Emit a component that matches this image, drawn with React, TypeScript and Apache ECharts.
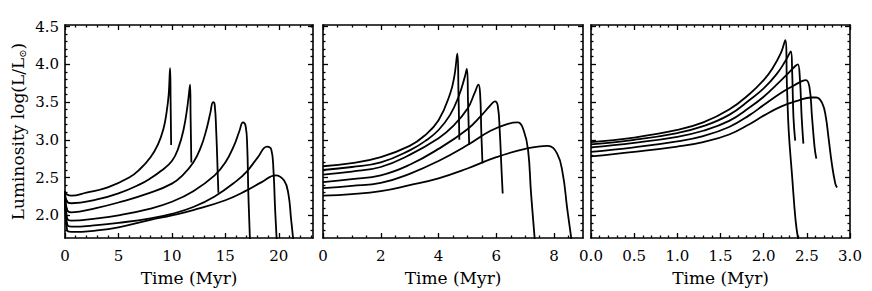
import React, { useEffect, useRef } from "react";
import * as echarts from "echarts";

// ---- Data: [time (Myr), log(L/Lsun)] ----
// Panel 1
const p1A = [[0, 2.32], [0.15, 2.28], [0.6, 2.26], [2, 2.30], [4, 2.37], [6, 2.50], [7, 2.61], [8, 2.77], [8.7, 2.94], [9.2, 3.14], [9.5, 3.36], [9.7, 3.60], [9.83, 3.95], [9.88, 3.5], [9.93, 2.93]];
const p1B = [[0, 2.32], [0.2, 2.18], [0.6, 2.16], [3, 2.21], [5, 2.29], [7, 2.41], [8, 2.49], [9, 2.59], [10, 2.72], [10.6, 2.89], [11.1, 3.14], [11.45, 3.44], [11.7, 3.73], [11.75, 3.3], [11.82, 2.70]];
const p1C = [[0, 2.32], [0.2, 2.07], [0.6, 2.04], [3, 2.10], [5, 2.17], [8, 2.30], [10, 2.42], [11, 2.53], [12, 2.70], [12.7, 2.90], [13.2, 3.12], [13.6, 3.36], [13.85, 3.50], [14.0, 3.47], [14.15, 3.1], [14.3, 2.50], [14.35, 2.30]];
const p1D = [[0, 2.32], [0.2, 1.96], [0.6, 1.93], [3, 1.96], [5, 2.00], [8, 2.09], [10, 2.18], [12, 2.32], [14, 2.53], [15, 2.70], [15.8, 2.92], [16.3, 3.11], [16.65, 3.23], [16.9, 3.18], [17.05, 2.9], [17.15, 2.3], [17.3, 1.68]];
const p1E = [[0, 2.32], [0.2, 1.88], [0.6, 1.85], [3, 1.87], [5, 1.90], [8, 1.96], [10, 2.02], [12, 2.11], [14, 2.25], [16, 2.45], [17, 2.58], [18, 2.76], [18.9, 2.91], [19.3, 2.87], [19.5, 2.6], [19.65, 2.1], [19.8, 1.68]];
const p1F = [[0, 2.32], [0.2, 1.80], [0.6, 1.78], [3, 1.80], [5, 1.84], [8, 1.94], [10, 2.00], [12, 2.07], [15, 2.20], [17, 2.33], [18.4, 2.44], [19.7, 2.53], [20.5, 2.46], [20.9, 2.28], [21.15, 1.95], [21.35, 1.68]];

// Panel 2
const p2A = [[0, 2.65], [1, 2.69], [2, 2.77], [3, 2.92], [3.5, 3.05], [4, 3.26], [4.4, 3.61], [4.55, 3.85], [4.65, 4.14], [4.69, 3.6], [4.72, 3.00]];
const p2B = [[0, 2.60], [1, 2.64], [2, 2.70], [3, 2.86], [3.6, 3.0], [4, 3.13], [4.4, 3.33], [4.7, 3.58], [4.9, 3.82], [4.98, 3.94], [5.02, 3.5], [5.06, 2.93]];
const p2C = [[0, 2.54], [1, 2.58], [2, 2.64], [3, 2.80], [4, 3.02], [4.5, 3.18], [5, 3.41], [5.25, 3.62], [5.38, 3.73], [5.44, 3.6], [5.48, 3.1], [5.52, 2.69]];
const p2D = [[0, 2.44], [1, 2.48], [2, 2.53], [3, 2.67], [4, 2.88], [5, 3.14], [5.5, 3.33], [5.8, 3.46], [5.95, 3.51], [6.05, 3.45], [6.12, 3.1], [6.18, 2.6], [6.22, 2.29]];
const p2E = [[0, 2.36], [1, 2.39], [2, 2.43], [3, 2.55], [4, 2.72], [5, 2.93], [5.8, 3.12], [6.4, 3.21], [6.74, 3.23], [6.95, 3.12], [7.1, 2.86], [7.2, 2.3], [7.33, 1.68]];
const p2F = [[0, 2.26], [1, 2.28], [2, 2.32], [3, 2.40], [4, 2.49], [5, 2.62], [6, 2.77], [7, 2.88], [7.77, 2.92], [8.1, 2.82], [8.3, 2.55], [8.45, 2.1], [8.6, 1.68]];

// Panel 3
const p3A = [[0, 2.97], [0.5, 3.03], [1.0, 3.13], [1.3, 3.23], [1.6, 3.40], [1.84, 3.61], [2.0, 3.79], [2.1, 3.94], [2.2, 4.15], [2.25, 4.32], [2.27, 3.7], [2.29, 3.12], [2.33, 2.51], [2.37, 1.93], [2.40, 1.68]];
const p3B = [[0, 2.94], [0.5, 3.00], [1.0, 3.09], [1.3, 3.18], [1.6, 3.33], [1.84, 3.53], [2.0, 3.68], [2.15, 3.87], [2.25, 4.04], [2.315, 4.17], [2.33, 3.9], [2.345, 3.3], [2.365, 2.99]];
const p3C = [[0, 2.90], [0.5, 2.96], [1.0, 3.04], [1.3, 3.12], [1.6, 3.25], [1.84, 3.43], [2.0, 3.57], [2.15, 3.73], [2.3, 3.90], [2.37, 3.98], [2.396, 4.0], [2.42, 3.8], [2.44, 3.3], [2.46, 2.95]];
const p3D = [[0, 2.84], [0.5, 2.90], [1.0, 2.98], [1.3, 3.05], [1.6, 3.17], [1.84, 3.33], [2.0, 3.46], [2.2, 3.62], [2.35, 3.72], [2.45, 3.78], [2.49, 3.79], [2.53, 3.70], [2.56, 3.3], [2.59, 2.9], [2.61, 2.75]];
const p3E = [[0, 2.78], [0.5, 2.84], [1.0, 2.91], [1.3, 2.97], [1.6, 3.07], [1.84, 3.21], [2.0, 3.32], [2.2, 3.44], [2.4, 3.52], [2.55, 3.56], [2.61, 3.56], [2.68, 3.48], [2.72, 3.30], [2.75, 3.04], [2.79, 2.68], [2.83, 2.42], [2.85, 2.37]];

const panel1 = [p1A, p1B, p1C, p1D, p1E, p1F];
const panel2 = [p2A, p2B, p2C, p2D, p2E, p2F];
const panel3 = [p3A, p3B, p3C, p3D, p3E];

// Axis settings
const yMin = 1.7;
const yMax = 4.52;
const yMajorTicks = [2.0, 2.5, 3.0, 3.5, 4.0, 4.5];
const yMinorTicks = [1.8, 1.9, 2.1, 2.2, 2.3, 2.4, 2.6, 2.7, 2.8, 2.9, 3.1, 3.2, 3.3, 3.4, 3.6, 3.7, 3.8, 3.9, 4.1, 4.2, 4.3, 4.4];
const xRanges = [[0, 23.2], [0, 9], [0, 3]];
const xMajorTicks = [[0, 5, 10, 15, 20], [0, 2, 4, 6, 8], [0, 0.5, 1.0, 1.5, 2.0, 2.5, 3.0]];
const xMinorTicks = [
  [1, 2, 3, 4, 6, 7, 8, 9, 11, 12, 13, 14, 16, 17, 18, 19, 21, 22, 23],
  [0.5, 1, 1.5, 2.5, 3, 3.5, 4.5, 5, 5.5, 6.5, 7, 7.5, 8.5],
  [0.1, 0.2, 0.3, 0.4, 0.6, 0.7, 0.8, 0.9, 1.1, 1.2, 1.3, 1.4, 1.6, 1.7, 1.8, 1.9, 2.1, 2.2, 2.3, 2.4, 2.6, 2.7, 2.8, 2.9],
];
const xDecimals = [0, 0, 1];

const FONT = "'DejaVu Serif', 'Liberation Serif', serif";

export default function App() {
  const ref = useRef<HTMLDivElement>(null);
  useEffect(() => {
    if (!ref.current) return;
    const chart = echarts.init(ref.current, null, { renderer: "svg" });
    const grids = [
      { left: 65, top: 25, width: 248, height: 213 },
      { left: 323, top: 25, width: 260, height: 213 },
      { left: 591, top: 25, width: 259, height: 213 },
    ];
    const frameStyle = { color: "#000", width: 1.6 };
    const tickStyle = { color: "#000", width: 1.3 };
    const xAxes: any[] = [];
    const yAxes: any[] = [];
    const series: any[] = [];
    const panels = [panel1, panel2, panel3];
    grids.forEach((_, i) => {
      ["bottom", "top"].forEach((pos) => {
        const isBottom = pos === "bottom";
        xAxes.push({
          type: "value",
          gridIndex: i,
          position: pos,
          min: xRanges[i][0],
          max: xRanges[i][1],
          axisLine: { show: true, onZero: false, lineStyle: frameStyle },
          axisTick: { show: true, inside: true, length: 5, customValues: xMajorTicks[i], lineStyle: tickStyle },
          splitLine: { show: false },
          axisLabel: {
            show: isBottom,
            customValues: xMajorTicks[i],
            margin: 10,
            color: "#000",
            fontFamily: FONT,
            fontSize: 15,
            formatter: (v: number) => v.toFixed(xDecimals[i]),
          },
          name: isBottom ? "Time (Myr)" : "",
          nameLocation: "middle",
          nameGap: 31,
          nameTextStyle: { color: "#000", fontFamily: FONT, fontSize: 17 },
        });
        xAxes.push({
          type: "value",
          gridIndex: i,
          position: pos,
          min: xRanges[i][0],
          max: xRanges[i][1],
          axisLine: { show: false, onZero: false },
          axisTick: { show: true, inside: true, length: 2.5, customValues: xMinorTicks[i], lineStyle: tickStyle },
          splitLine: { show: false },
          axisLabel: { show: false },
        });
      });
      ["left", "right"].forEach((pos) => {
        const labeled = i === 0 && pos === "left";
        yAxes.push({
          type: "value",
          gridIndex: i,
          position: pos,
          min: yMin,
          max: yMax,
          axisLine: { show: true, onZero: false, lineStyle: frameStyle },
          axisTick: { show: true, inside: true, length: 5, customValues: yMajorTicks, lineStyle: tickStyle },
          splitLine: { show: false },
          axisLabel: {
            show: labeled,
            customValues: yMajorTicks,
            margin: 6,
            color: "#000",
            fontFamily: FONT,
            fontSize: 15,
            formatter: (v: number) => v.toFixed(1),
          },
          name: labeled ? "Luminosity log(L/L{sub|⊙})" : "",
          nameLocation: "middle",
          nameGap: 38,
          nameRotate: 90,
          nameTextStyle: {
            color: "#000",
            fontFamily: FONT,
            fontSize: 17,
            rich: { sub: { fontFamily: FONT, fontSize: 10, color: "#000", padding: [8, 0, 0, 0] } },
          },
        });
        yAxes.push({
          type: "value",
          gridIndex: i,
          position: pos,
          min: yMin,
          max: yMax,
          axisLine: { show: false, onZero: false },
          axisTick: { show: true, inside: true, length: 2.5, customValues: yMinorTicks, lineStyle: tickStyle },
          splitLine: { show: false },
          axisLabel: { show: false },
        });
      });
      panels[i].forEach((track) => {
        series.push({
          type: "line",
          xAxisIndex: 4 * i,
          yAxisIndex: 4 * i,
          data: track,
          showSymbol: false,
          symbol: "none",
          smooth: 0.45,
          clip: true,
          lineStyle: { color: "#000", width: 1.8 },
        });
      });
    });
    chart.setOption({
      animation: false,
      backgroundColor: "#fff",
      grid: grids,
      xAxis: xAxes,
      yAxis: yAxes,
      series,
    });
    return () => chart.dispose();
  }, []);
  return <div ref={ref} style={{ position: "absolute", left: 0, top: 0, width: 872, height: 291, background: "#fff" }} />;
}
